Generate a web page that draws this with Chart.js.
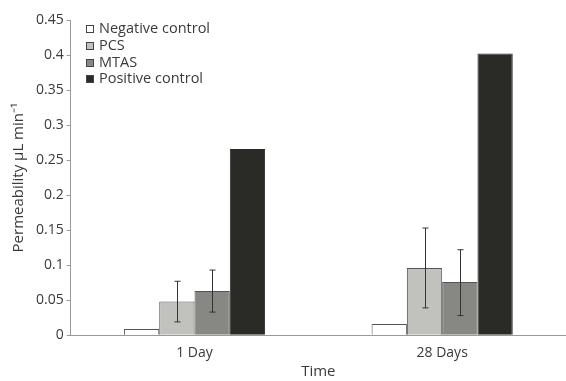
<!DOCTYPE html>
<html>
<head>
<meta charset="utf-8">
<script src="https://cdn.jsdelivr.net/npm/chart.js@4/dist/chart.umd.min.js"></script>
<style>
  html, body { margin: 0; padding: 0; background: #fff; }
  #wrap { width: 566px; height: 381px; position: relative; }
</style>
</head>
<body>
<div id="wrap"><canvas id="myChart"></canvas></div>
<script>
var categories = ['1 Day', '28 Days'];
var seriesNames = ['Negative control', 'PCS', 'MTAS', 'Positive control'];
var negative = [0.009, 0.016];
var pcs = [0.048, 0.096];
var mtas = [0.063, 0.076];
var positive = [0.266, 0.402];
// error bar ends (low, high)
var pcsLow = [0.019, 0.039];
var pcsHigh = [0.077, 0.153];
var mtasLow = [0.033, 0.028];
var mtasHigh = [0.093, 0.122];
var yTicks = [0, 0.05, 0.1, 0.15, 0.2, 0.25, 0.3, 0.35, 0.4, 0.45];

var colors = ['#ffffff', '#c1c2bd', '#878884', '#2a2a27'];
var borders = ['#555', '#555', '#555', '#2a2a27'];

var errorBars = {
  id: 'errorBars',
  afterDatasetsDraw: function (chart) {
    var ctx = chart.ctx;
    var y = chart.scales.y;
    var sets = [[1, pcsLow, pcsHigh], [2, mtasLow, mtasHigh]];
    ctx.save();
    ctx.strokeStyle = '#333';
    ctx.lineWidth = 1;
    sets.forEach(function (s) {
      var meta = chart.getDatasetMeta(s[0]);
      meta.data.forEach(function (bar, i) {
        var x = Math.round(bar.x) + 0.5;
        var y1 = y.getPixelForValue(s[1][i]);
        var y2 = y.getPixelForValue(s[2][i]);
        ctx.beginPath();
        ctx.moveTo(x, y1); ctx.lineTo(x, y2);
        ctx.moveTo(x - 3, y1); ctx.lineTo(x + 3, y1);
        ctx.moveTo(x - 3, y2); ctx.lineTo(x + 3, y2);
        ctx.stroke();
      });
    });
    ctx.restore();
  }
};

var boxLegend = {
  id: 'boxLegend',
  afterDraw: function (chart) {
    var ctx = chart.ctx;
    var rows = [29, 46, 63, 79];
    ctx.save();
    ctx.font = '14.5px "Open Sans"';
    ctx.textBaseline = 'middle';
    seriesNames.forEach(function (name, i) {
      ctx.fillStyle = colors[i];
      ctx.fillRect(86.5, rows[i] - 3.5, 7, 7);
      ctx.strokeStyle = '#444';
      ctx.strokeRect(86.5, rows[i] - 3.5, 7, 7);
      ctx.fillStyle = '#3a3a3a';
      ctx.fillText(name, 99, rows[i]);
    });
    ctx.restore();
  }
};

var ctx = document.getElementById('myChart').getContext('2d');
new Chart(ctx, {
  type: 'bar',
  data: {
    labels: categories,
    datasets: [negative, pcs, mtas, positive].map(function (d, i) {
      return {
        label: seriesNames[i],
        data: d,
        backgroundColor: colors[i],
        borderColor: borders[i],
        borderWidth: 1,
        categoryPercentage: 0.57,
        barPercentage: 1
      };
    })
  },
  options: {
    responsive: true,
    maintainAspectRatio: false,
    animation: false,
    layout: { padding: { top: 20, right: 0, left: 10, bottom: 0 } },
    plugins: { legend: { display: false }, tooltip: { enabled: false } },
    scales: {
      x: {
        grid: { display: true, drawOnChartArea: false, drawTicks: false, color: '#999' },
        border: { color: '#999' },
        ticks: { color: '#3a3a3a', font: { family: 'Open Sans', size: 14 }, padding: 9 },
        title: { display: true, text: 'Time', color: '#3a3a3a', font: { family: 'Open Sans', size: 15 }, padding: { top: -7, bottom: 0 } }
      },
      y: {
        min: 0,
        max: 0.45,
        afterBuildTicks: function (axis) {
          axis.ticks = yTicks.map(function (v) { return { value: v }; });
        },
        grid: { drawOnChartArea: false, drawTicks: true, tickLength: 4, color: '#999' },
        border: { color: '#999' },
        ticks: {
          color: '#3a3a3a',
          font: { family: 'Open Sans', size: 14 },
          padding: 3,
          callback: function (v) { return String(parseFloat(v.toFixed(2))); }
        },
        title: { display: true, text: 'Permeability µL min⁻¹', color: '#3a3a3a', font: { family: 'Open Sans', size: 15 }, padding: { top: 0, bottom: 5 } }
      }
    }
  },
  plugins: [errorBars, boxLegend]
});
</script>
</body>
</html>
